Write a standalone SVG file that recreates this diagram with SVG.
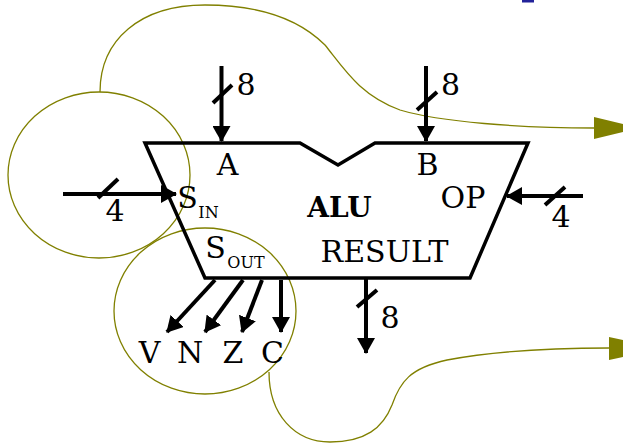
<svg xmlns="http://www.w3.org/2000/svg" width="623" height="444" viewBox="0 0 623 444">
<style>
text{font-family:"DejaVu Serif","Liberation Serif",serif;fill:#000;font-size:30px;text-anchor:middle}
.sub{font-size:16px}
.b{font-weight:bold;font-size:28px}
.wire{stroke:#000;stroke-width:4;fill:none}
.arr{marker-end:url(#ah)}
.olive{stroke:#808000;stroke-width:1.3;fill:none}
</style>
<defs>
<marker id="ah" viewBox="0 0 16 18" refX="15" refY="9" markerWidth="16" markerHeight="18" markerUnits="userSpaceOnUse" orient="auto">
<path d="M0,0 L16,9 L0,18 z" fill="#000"/>
</marker>
</defs>
<rect x="522" y="0" width="12" height="2.5" fill="#22229a"/>
<g id="annotations">
<ellipse cx="99" cy="175" rx="91" ry="83" class="olive"/>
<ellipse cx="205" cy="311" rx="91" ry="83" class="olive"/>
<path class="olive" d="M100,92 C100,40 140,5 205,5 C260,5 300,20 325,45 C345,70 360,95 400,110 C440,122 520,128 594,128"/>
<polygon points="594,117 594,139 640,128" fill="#808000"/>
<path class="olive" d="M269,372 C269,415 295,442 330,442 C365,442 383,428 392,405 C400,382 410,368 447,360 C500,350 560,348 609,348"/>
<polygon points="609,337 609,360 663,348.5" fill="#808000"/>
</g>
<g id="alu">
<path d="M145,143 L300,143 L338,165 L375,143 L528,143 L470,278 L205,278 Z" fill="none" stroke="#000" stroke-width="3.5" stroke-linejoin="miter"/>
<text x="227.5" y="175">A</text>
<text x="427.5" y="175">B</text>
<text x="187.5" y="208">S</text>
<text class="sub" x="208.5" y="218">IN</text>
<text x="215.5" y="258">S</text>
<text class="sub" x="246" y="268">OUT</text>
<text class="b" x="339.5" y="217">ALU</text>
<text x="463" y="208">OP</text>
<text x="384.5" y="262">RESULT</text>
</g>
<g id="connectors">
<line class="wire arr" x1="221.5" y1="66" x2="221.5" y2="141"/>
<line class="wire" x1="213" y1="103" x2="232" y2="85"/>
<line class="wire arr" x1="426" y1="66" x2="426" y2="141"/>
<line class="wire" x1="417" y1="110" x2="437" y2="92"/>
<line class="wire arr" x1="63" y1="194" x2="176" y2="194"/>
<line class="wire" x1="98" y1="198" x2="118" y2="179"/>
<line class="wire arr" x1="583" y1="196" x2="507" y2="196"/>
<line class="wire" x1="545" y1="205" x2="565" y2="187"/>
<line class="wire arr" x1="215" y1="280" x2="167" y2="332"/>
<line class="wire arr" x1="243" y1="280" x2="205" y2="332"/>
<line class="wire arr" x1="262" y1="280" x2="242" y2="332"/>
<line class="wire arr" x1="281" y1="280" x2="281" y2="332"/>
<line class="wire arr" x1="366" y1="278" x2="366" y2="353"/>
<line class="wire" x1="357" y1="307" x2="377" y2="290"/>
</g>
<g id="labels">
<text x="246" y="95">8</text>
<text x="450.5" y="95">8</text>
<text x="115" y="221">4</text>
<text x="561" y="227">4</text>
<text x="390" y="328">8</text>
<text x="149.5" y="363">V</text>
<text x="190" y="363">N</text>
<text x="233" y="363">Z</text>
<text x="272.5" y="363">C</text>
</g>
</svg>
